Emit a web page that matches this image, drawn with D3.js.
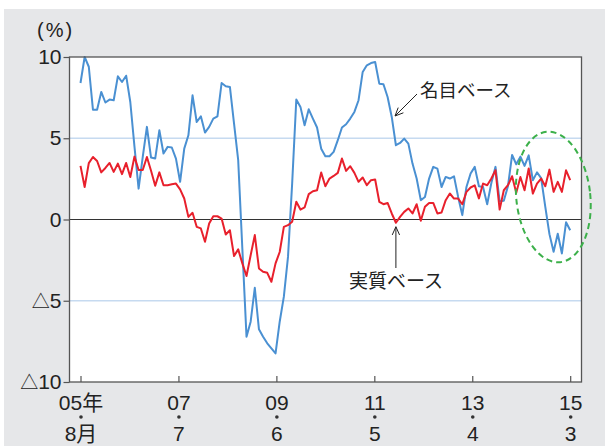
<!DOCTYPE html>
<html><head><meta charset="utf-8">
<script src="https://cdn.jsdelivr.net/npm/d3@7"></script>
<style>body{margin:0;background:#fff}svg{display:block}</style>
</head><body>
<svg id="c" width="605" height="446"></svg>
<script>
// Monthly series (index 0 = 2005/8 ... last = 2015/3), year-on-year % change
const nominal = [
 8.4, 10.0, 9.4, 6.76, 6.76, 7.85, 7.2, 7.38, 7.34, 8.81,
 8.46, 8.85, 7.23, 4.5, 1.9, 3.85, 5.7, 3.81, 3.75, 5.49,
 4.06, 4.47, 4.43, 3.75, 2.32, 4.36, 5.18, 7.64, 6.0, 6.35,
 5.35, 5.7, 6.21, 6.35, 8.4, 8.2, 8.16, 5.9, 3.65, -1.8,
 -7.21, -6.29, -4.2, -6.76, -7.21, -7.62, -7.93, -8.24, -6.29, -4.75,
 -2.3, 2.21, 7.38, 6.93, 5.8, 6.78, 6.21, 5.66, 4.36, 3.89,
 3.89, 4.16, 4.88, 5.66, 5.86, 6.21, 6.62, 7.34, 9.08, 9.49,
 9.63, 9.69, 8.36, 8.32, 7.54, 6.31, 4.57, 4.71, 4.98, 4.67,
 3.44, 2.52, 1.19, 1.39, 2.52, 3.24, 3.13, 2.0, 2.62, 2.52,
 2.66, 1.39, 0.27, 2.0, 2.83, 3.24, 2.05, 2.0, 0.94, 2.25,
 3.24, 1.12, 1.15, 2.05, 3.97, 3.4, 3.87, 3.3, 3.95, 2.42,
 2.9, 2.55, 0.78, -0.9, -1.99, -0.88, -2.09, -0.17, -0.66
];
const real = [
 3.3, 2.0, 3.47, 3.85, 3.6, 2.9, 3.17, 3.48, 2.93, 3.44,
 2.79, 3.48, 2.62, 3.87, 3.05, 3.05, 3.85, 3.0, 2.08, 2.9,
 2.11, 2.11, 2.17, 2.21, 1.85, 1.29, 0.16, 0.41, -0.45, -0.55,
 -1.37, -0.25, 0.2, 0.2, 0.06, -0.92, -0.66, -2.25, -1.84, -2.7,
 -3.48, -2.2, -0.96, -3.01, -3.22, -3.28, -3.83, -2.7, -2.0, -0.45,
 -0.35, -0.14, 1.09, 0.61, 0.74, 1.56, 1.74, 1.8, 2.89, 2.05,
 2.52, 2.68, 2.87, 3.75, 2.99, 3.28, 2.87, 2.32, 2.58, 2.11,
 2.42, 2.46, 1.09, 0.94, 1.02, 0.37, -0.2, 0.16, 0.47, 0.68,
 0.37, 0.94, -0.08, 0.78, 1.02, 1.02, 0.37, 0.43, 1.19, 1.6,
 1.29, 1.29, 0.94, 1.7, 1.97, 2.1, 1.3, 2.21, 2.11, 2.52,
 3.03, 0.61, 1.8, 2.11, 2.66, 1.64, 2.62, 1.8, 3.14, 1.6,
 2.21, 2.52, 2.05, 3.07, 1.7, 2.32, 1.7, 3.03, 2.42
];
const yTicks = [10, 5, 0, -5, -10];
const yTickLabels = ["10", "5", "0", "△5", "△10"];
const xTickPos = [0, 23.6, 47.2, 70.8, 94.4, 118];
const xTickYear = ["05年", "07", "09", "11", "13", "15"];
const xTickMonth = ["8月", "7", "6", "5", "4", "3"];
const seriesNames = ["名目ベース", "実質ベース"];

const svg = d3.select('#c');
const FONT = "'Liberation Sans', Arial, 'Noto Sans CJK JP', sans-serif";
const JFONT = "'Noto Sans CJK JP', sans-serif";

svg.append('rect').attr('x', 4).attr('y', 9).attr('width', 601).attr('height', 437).attr('fill', '#e6e7e9');

const L = 69.5, R = 581.5, T = 57, B = 382;
svg.append('rect').attr('x', L).attr('y', T).attr('width', R - L).attr('height', B - T).attr('fill', '#fff');

const x = d3.scaleLinear().domain([0, nominal.length - 1]).range([80.5, 570.2]);
const y = d3.scaleLinear().domain([-10, 10]).range([B, T]);

// grid lines
svg.append('g').selectAll('line').data([5, -5]).join('line')
  .attr('x1', L).attr('x2', R).attr('y1', d => y(d)).attr('y2', d => y(d))
  .attr('stroke', '#c6daf0').attr('stroke-width', 1.5);
svg.append('line').attr('x1', L).attr('x2', R).attr('y1', y(0)).attr('y2', y(0))
  .attr('stroke', '#333').attr('stroke-width', 1.2);

const line = d3.line().x((d, i) => x(i)).y(d => y(d));
svg.append('path').datum(nominal).attr('d', line).attr('fill', 'none')
  .attr('stroke', '#4a90d2').attr('stroke-width', 2).attr('stroke-linejoin', 'round');
svg.append('path').datum(real).attr('d', line).attr('fill', 'none')
  .attr('stroke', '#e8202c').attr('stroke-width', 2).attr('stroke-linejoin', 'round');

// frame
svg.append('rect').attr('x', L).attr('y', T).attr('width', R - L).attr('height', B - T)
  .attr('fill', 'none').attr('stroke', '#555').attr('stroke-width', 1.3);

// Y axis
const ya = svg.append('g').attr('transform', `translate(${L},0)`)
  .call(d3.axisLeft(y).tickValues(yTicks).tickSize(6).tickPadding(2).tickFormat((d, i) => yTickLabels[i]));
ya.select('.domain').remove();
ya.selectAll('line').attr('stroke', '#555').attr('stroke-width', 1.2);
ya.selectAll('text').attr('font-family', FONT).attr('font-size', 21).attr('fill', '#222')
  .each(function (d, i) {
    const t = d3.select(this); const s = yTickLabels[i];
    if (s.startsWith('△')) {
      t.text(null);
      t.append('tspan').attr('font-family', JFONT).attr('font-size', 18).text('△');
      t.append('tspan').text(s.slice(1));
    }
  });

// X axis
const xa = svg.append('g').attr('transform', `translate(0,${B})`)
  .call(d3.axisBottom(x).tickValues(xTickPos).tickSize(-6).tickPadding(13).tickFormat((d, i) => xTickYear[i]));
xa.select('.domain').remove();
xa.selectAll('line').attr('stroke', '#555').attr('stroke-width', 1.2);
xa.selectAll('text').attr('font-family', FONT).attr('font-size', 21).attr('fill', '#222');
xa.selectAll('.tick').append('circle').attr('cy', 35).attr('r', 1.8).attr('fill', '#333');
xa.selectAll('.tick').append('text').attr('y', 59).attr('text-anchor', 'middle')
  .attr('font-family', FONT).attr('font-size', 21).attr('fill', '#222')
  .text((d, i) => xTickMonth[i]);

// unit
svg.append('text').attr('x', 37).attr('y', 37).attr('font-family', FONT).attr('font-size', 20)
  .attr('letter-spacing', 2).attr('fill', '#222').text('(%)');

// annotations
function arrow(x1, y1, x2, y2) {
  const a = Math.atan2(y2 - y1, x2 - x1), h = 9, w = 0.42;
  svg.append('line').attr('x1', x1).attr('y1', y1).attr('x2', x2).attr('y2', y2)
    .attr('stroke', '#222').attr('stroke-width', 1);
  svg.append('path').attr('d', `M${x2 - h * Math.cos(a - w)},${y2 - h * Math.sin(a - w)}L${x2},${y2}L${x2 - h * Math.cos(a + w)},${y2 - h * Math.sin(a + w)}`)
    .attr('fill', 'none').attr('stroke', '#222').attr('stroke-width', 1);
}
svg.append('text').attr('x', 420).attr('y', 97).attr('font-family', JFONT).attr('font-size', 18.5)
  .attr('fill', '#222').text(seriesNames[0]);
arrow(417, 94, 395, 116);
svg.append('text').attr('x', 349).attr('y', 288).attr('font-family', JFONT).attr('font-size', 19)
  .attr('fill', '#222').text(seriesNames[1]);
arrow(x(76), 268, x(76), y(real[76]) + 4);

// highlight ellipse
svg.append('ellipse').attr('cx', 0).attr('cy', 0).attr('rx', 37).attr('ry', 65.5)
  .attr('transform', `translate(553.3,197) rotate(-6)`)
  .attr('fill', 'none').attr('stroke', '#3cb04a').attr('stroke-width', 2).attr('stroke-dasharray', '6,4');
</script>
</body></html>
